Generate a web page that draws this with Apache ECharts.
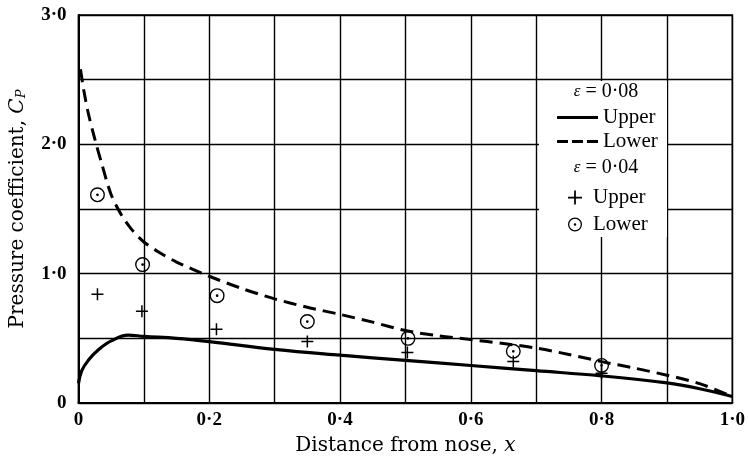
<!DOCTYPE html>
<html>
<head>
<meta charset="utf-8">
<script src="https://cdn.jsdelivr.net/npm/echarts@6/dist/echarts.min.js"></script>
<style>html,body{margin:0;padding:0;background:#fff}#c{width:748px;height:464px}</style>
</head>
<body>
<div id="c"></div>
<script>
// ---- data ----
const upperX = [0, 0.005, 0.015, 0.03, 0.05, 0.076, 0.1, 0.15, 0.2, 0.3, 0.4, 0.5, 0.6, 0.7, 0.8, 0.9, 0.95, 1.0];
const upperCp = [0.15, 0.25, 0.33, 0.41, 0.48, 0.525, 0.515, 0.50, 0.475, 0.415, 0.37, 0.33, 0.29, 0.25, 0.21, 0.155, 0.11, 0.05];
const lowerX = [0.003, 0.008, 0.015, 0.025, 0.035, 0.05, 0.065, 0.08, 0.1, 0.125, 0.15, 0.2, 0.25, 0.3, 0.35, 0.4, 0.45, 0.5, 0.55, 0.6, 0.65, 0.7, 0.75, 0.8, 0.85, 0.9, 0.95, 1.0];
const lowerCp = [2.58, 2.42, 2.24, 2.04, 1.86, 1.61, 1.46, 1.35, 1.245, 1.16, 1.09, 0.98, 0.885, 0.805, 0.74, 0.685, 0.625, 0.56, 0.52, 0.49, 0.46, 0.425, 0.375, 0.32, 0.27, 0.215, 0.15, 0.05];
const ptUpperX = [0.029, 0.097, 0.211, 0.35, 0.503, 0.665, 0.80];
const ptUpperCp = [0.84, 0.71, 0.57, 0.475, 0.39, 0.32, 0.23];
const ptLowerX = [0.029, 0.098, 0.212, 0.35, 0.504, 0.665, 0.80];
const ptLowerCp = [1.61, 1.07, 0.83, 0.63, 0.50, 0.40, 0.29];
const xTickValues = [0, 0.2, 0.4, 0.6, 0.8, 1.0];
const xTickLabels = ['0', '0·2', '0·4', '0·6', '0·8', '1·0'];
const yTickValues = [0, 1, 2, 3];
const yTickLabels = ['0', '1·0', '2·0', '3·0'];
const seriesNames = ['Upper', 'Lower', 'Upper ', 'Lower '];
const legendHeads = ['0·08', '0·04'];

// ---- helpers ----
const zip = (xs, ys) => xs.map((x, i) => [x, ys[i]]);
const labelFor = (vals, labs) => v => {
  for (let i = 0; i < vals.length; i++) if (Math.abs(v - vals[i]) < 1e-6) return labs[i];
  return '';
};
const SERIF = "'DejaVu Serif', 'Liberation Serif', serif";
const TIMES = "'Liberation Serif', 'DejaVu Serif', serif";
const plusPath = 'path://M-0.75,-6 L0.75,-6 L0.75,-0.75 L6,-0.75 L6,0.75 L0.75,0.75 L0.75,6 L-0.75,6 L-0.75,0.75 L-6,0.75 L-6,-0.75 L-0.75,-0.75 Z';
const ringPath = 'path://M0,-6 A6,6 0 1,1 0,6 A6,6 0 1,1 0,-6 Z M0,-4.9 A4.9,4.9 0 1,0 0,4.9 A4.9,4.9 0 1,0 0,-4.9 Z M0,-1.1 A1.1,1.1 0 1,1 0,1.1 A1.1,1.1 0 1,1 0,-1.1 Z';
const solidIcon = 'path://M0,0 L40,0 L40,3 L0,3 Z';
const dashIcon = 'path://M0,0 L11,0 L11,3 L0,3 Z M15,0 L26,0 L26,3 L15,3 Z M30,0 L41,0 L41,3 L30,3 Z';

const chart = echarts.init(document.getElementById('c'), null, {renderer: 'canvas'});
const legendText = {fontFamily: TIMES, fontSize: 21, color: '#000', lineHeight: 20};
const headStyle = txt => ({text: '{i|ε} = ' + txt, align: 'center', verticalAlign: 'middle',
  fontFamily: TIMES, fontSize: 20, fill: '#000', rich: {i: {fontFamily: TIMES, fontStyle: 'italic', fontSize: 17, fill: '#000'}}});
chart.setOption({
  animation: false,
  backgroundColor: '#fff',
  grid: {left: 76, right: 12, top: 15, bottom: 61, show: true, borderColor: '#000', borderWidth: 1.5},
  xAxis: {
    type: 'value', min: 0, max: 1, interval: 0.1,
    axisLine: {show: true, lineStyle: {color: '#000', width: 2}},
    axisTick: {show: false},
    splitLine: {show: true, lineStyle: {color: '#000', width: 1.4}},
    axisLabel: {formatter: labelFor(xTickValues, xTickLabels), fontFamily: TIMES, fontWeight: 'bold', fontSize: 19, color: '#000', margin: 8, showMinLabel: true, showMaxLabel: true},
    name: 'Distance from nose, {i|x}', nameLocation: 'middle', nameGap: 33,
    nameTextStyle: {fontFamily: SERIF, fontSize: 20, color: '#000',
      rich: {i: {fontFamily: SERIF, fontStyle: 'italic', fontSize: 20, color: '#000'}}}
  },
  yAxis: {
    type: 'value', min: 0, max: 3, interval: 0.5,
    axisLine: {show: true, lineStyle: {color: '#000', width: 2}},
    axisTick: {show: false},
    splitLine: {show: true, lineStyle: {color: '#000', width: 1.4}},
    axisLabel: {formatter: labelFor(yTickValues, yTickLabels), fontFamily: TIMES, fontWeight: 'bold', fontSize: 19, color: '#000', margin: 12, showMinLabel: true, showMaxLabel: true},
    name: 'Pressure coefficient, {i|C}{s|P}', nameLocation: 'middle', nameGap: 50,
    nameTextStyle: {fontFamily: SERIF, fontSize: 20, color: '#000',
      rich: {i: {fontFamily: SERIF, fontStyle: 'italic', fontSize: 20, color: '#000'},
             s: {fontFamily: SERIF, fontStyle: 'italic', fontSize: 13, color: '#000', verticalAlign: 'bottom', padding: [8, 0, 0, 0]}}}
  },
  legend: [
    {orient: 'vertical', left: 552, top: 102, itemWidth: 41, itemHeight: 3, itemGap: 3, z: 10,
     data: [{name: seriesNames[0], icon: solidIcon}, {name: seriesNames[1], icon: dashIcon}],
     textStyle: legendText, selectedMode: false, symbolKeepAspect: false},
    {orient: 'vertical', left: 563, top: 182, itemWidth: 14, itemHeight: 14, itemGap: 6, z: 10,
     data: [seriesNames[2], seriesNames[3]], textStyle: Object.assign({padding: [0, 0, 0, 6]}, legendText), selectedMode: false,
     formatter: n => n.trim()}
  ],
  graphic: [
    {type: 'rect', shape: {x: 539, y: 81, width: 128, height: 156}, style: {fill: '#fff'}, z: 3, silent: true},
    {type: 'text', x: 606, y: 92, z: 10, style: headStyle(legendHeads[0])},
    {type: 'text', x: 606, y: 168, z: 10, style: headStyle(legendHeads[1])}
  ],
  series: [
    {name: seriesNames[0], type: 'line', data: zip(upperX, upperCp), smooth: 0.4, showSymbol: false, symbol: 'none',
     lineStyle: {color: '#000', width: 3.2}, itemStyle: {color: '#000'}, z: 4},
    {name: seriesNames[1], type: 'line', data: zip(lowerX, lowerCp), smooth: 0.3, showSymbol: false, symbol: 'none',
     lineStyle: {color: '#000', width: 3, type: [13, 7]}, itemStyle: {color: '#000'}, z: 4},
    {name: seriesNames[2], type: 'scatter', data: zip(ptUpperX, ptUpperCp), symbol: plusPath, symbolSize: 12,
     itemStyle: {color: '#000', opacity: 1}, z: 5},
    {name: seriesNames[3], type: 'scatter', data: zip(ptLowerX, ptLowerCp), symbol: ringPath, symbolSize: 15,
     itemStyle: {color: '#000', opacity: 1}, z: 5}
  ]
});
</script>
</body>
</html>
